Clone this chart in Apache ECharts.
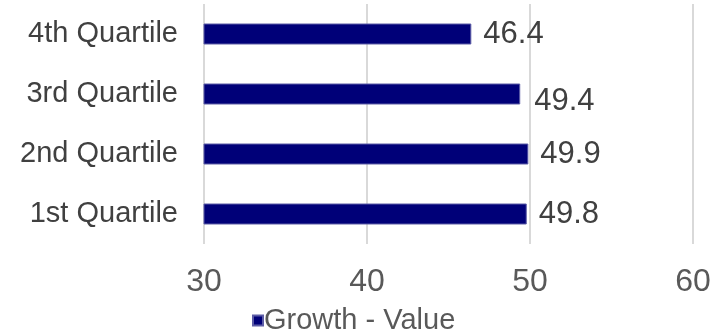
<!DOCTYPE html>
<html>
<head>
<meta charset="utf-8">
<script src="https://cdn.jsdelivr.net/npm/echarts@6/dist/echarts.min.js"></script>
<style>
  html, body { margin: 0; padding: 0; background: #ffffff; }
  #chart { width: 723px; height: 330px; }
</style>
</head>
<body>
<div id="chart"></div>
<script>
// Quartile spread, growth minus value
const categories = ['1st Quartile', '2nd Quartile', '3rd Quartile', '4th Quartile'];
const growthValue = [49.8, 49.9, 49.4, 46.4];
const seriesName = 'Growth - Value';
const axisMin = 30;
const axisMax = 60;
const axisStep = 10;

const FONT = "'Liberation Sans', Arial, sans-serif";

const chart = echarts.init(document.getElementById('chart'), null, { renderer: 'canvas' });

// the 3rd-quartile label sits a little lower than the others
const barData = growthValue.map((v, i) => (
  i === 2 ? { value: v, label: { offset: [2, 7] } } : v
));

chart.setOption({
  animation: false,
  backgroundColor: '#ffffff',
  grid: { left: 204, right: 30, top: 4, bottom: 86, containLabel: false },
  legend: {
    data: [seriesName],
    left: 247,
    top: 301,
    icon: 'rect',
    itemWidth: 10,
    itemHeight: 10,
    itemGap: 10,
    textStyle: { fontFamily: FONT, fontSize: 29, color: '#595959', padding: [0, 0, 0, -4] }
  },
  xAxis: {
    type: 'value',
    min: axisMin,
    max: axisMax,
    interval: axisStep,
    axisLine: { show: false },
    axisTick: { show: false },
    axisLabel: { fontFamily: FONT, fontSize: 32, color: '#595959', margin: 22 },
    splitLine: { show: true, lineStyle: { color: '#d9d9d9', width: 2 } }
  },
  yAxis: {
    type: 'category',
    data: categories,
    axisLine: { show: false },
    axisTick: { show: false },
    axisLabel: { fontFamily: FONT, fontSize: 29, color: '#404040', margin: 26 }
  },
  series: [{
    name: seriesName,
    type: 'bar',
    data: barData,
    barWidth: 21,
    itemStyle: { color: '#000078', borderColor: '#5c5ca6', borderWidth: 1 },
    label: {
      show: true,
      position: 'right',
      distance: 12,
      fontFamily: FONT,
      fontSize: 31,
      color: '#404040',
      formatter: p => p.value.toFixed(1)
    }
  }]
});
</script>
</body>
</html>
